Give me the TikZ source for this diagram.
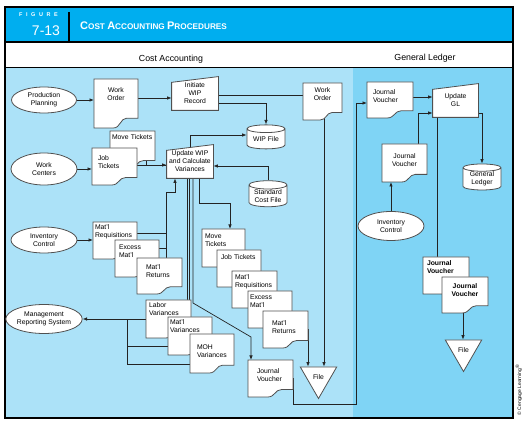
\documentclass[tikz,border=0pt]{standalone}
\usepackage{fontspec}
\setmainfont{Liberation Sans}
\usetikzlibrary{shapes.geometric,arrows.meta,calc}
\pgfdeclarelayer{bg}
\pgfdeclarelayer{lines}
\pgfsetlayers{bg,lines,main}
\definecolor{hdr}{RGB}{0,174,239}
\definecolor{cablue}{RGB}{172,226,248}
\definecolor{glblue}{RGB}{127,212,245}
\definecolor{dgray}{RGB}{80,80,80}
\definecolor{lcol}{RGB}{35,35,35}
\makeatletter
\pgfdeclareshape{docshape}{%
  \savedanchor\northeast{%
    \pgfmathsetlength\pgf@xa{\pgfkeysvalueof{/pgf/minimum width}}%
    \pgfmathsetlength\pgf@ya{\pgfkeysvalueof{/pgf/inner ysep}}%
    \pgf@x=.5\wd\pgfnodeparttextbox
    \advance\pgf@x by .5\pgf@xa
    \pgf@y=\ht\pgfnodeparttextbox
    \advance\pgf@y by \pgf@ya
  }%
  \savedanchor\southwest{%
    \pgfmathsetlength\pgf@xa{\pgfkeysvalueof{/pgf/minimum width}}%
    \pgfmathsetlength\pgf@ya{\pgfkeysvalueof{/pgf/inner ysep}}%
    \pgfmathsetlength\pgf@yb{\pgfkeysvalueof{/pgf/minimum height}}%
    \pgf@x=.5\wd\pgfnodeparttextbox
    \advance\pgf@x by -.5\pgf@xa
    \pgf@y=\ht\pgfnodeparttextbox
    \advance\pgf@y by \pgf@ya
    \advance\pgf@y by -\pgf@yb
  }%
  \inheritanchorborder[from=rectangle]%
  \inheritanchor[from=rectangle]{center}%
  \inheritanchor[from=rectangle]{north}%
  \inheritanchor[from=rectangle]{south}%
  \inheritanchor[from=rectangle]{east}%
  \inheritanchor[from=rectangle]{west}%
  \inheritanchor[from=rectangle]{north east}%
  \inheritanchor[from=rectangle]{north west}%
  \inheritanchor[from=rectangle]{south east}%
  \inheritanchor[from=rectangle]{south west}%
  \anchor{text}{\pgfpointorigin}%
  \backgroundpath{%
    \southwest \edef\doc@xa{\strip@pt\pgf@x}\edef\doc@ya{\strip@pt\pgf@y}%
    \northeast \edef\doc@xb{\strip@pt\pgf@x}\edef\doc@yb{\strip@pt\pgf@y}%
    \pgfmathsetmacro\doc@w{(\doc@xb)-(\doc@xa)}%
    \pgfmathsetmacro\doc@h{(\doc@yb)-(\doc@ya)}%
    \pgfpathmoveto{\pgfpoint{(\doc@xa)*1pt}{(\doc@yb)*1pt}}%
    \pgfpathlineto{\pgfpoint{(\doc@xb)*1pt}{(\doc@yb)*1pt}}%
    \pgfpathlineto{\pgfpoint{(\doc@xb)*1pt}{((\doc@ya)+0.2*\doc@h)*1pt}}%
    \pgfpathlineto{\pgfpoint{((\doc@xa)+0.74*\doc@w)*1pt}{((\doc@ya)+0.2*\doc@h)*1pt}}%
    \pgfpathcurveto{\pgfpoint{((\doc@xa)+0.6*\doc@w)*1pt}{((\doc@ya)+0.2*\doc@h)*1pt}}%
      {\pgfpoint{((\doc@xa)+0.6*\doc@w)*1pt}{(\doc@ya)*1pt}}%
      {\pgfpoint{((\doc@xa)+0.44*\doc@w)*1pt}{(\doc@ya)*1pt}}%
    \pgfpathlineto{\pgfpoint{(\doc@xa)*1pt}{(\doc@ya)*1pt}}%
    \pgfpathclose
  }%
}
\pgfdeclareshape{maninput}{%
  \inheritsavedanchors[from=rectangle]%
  \inheritanchorborder[from=rectangle]%
  \inheritanchor[from=rectangle]{center}%
  \inheritanchor[from=rectangle]{north}%
  \inheritanchor[from=rectangle]{south}%
  \inheritanchor[from=rectangle]{east}%
  \inheritanchor[from=rectangle]{west}%
  \inheritanchor[from=rectangle]{north east}%
  \inheritanchor[from=rectangle]{north west}%
  \inheritanchor[from=rectangle]{south east}%
  \inheritanchor[from=rectangle]{south west}%
  \backgroundpath{%
    \southwest \edef\mi@xa{\strip@pt\pgf@x}\edef\mi@ya{\strip@pt\pgf@y}%
    \northeast \edef\mi@xb{\strip@pt\pgf@x}\edef\mi@yb{\strip@pt\pgf@y}%
    \pgfmathsetmacro\mi@h{(\mi@yb)-(\mi@ya)}%
    \pgfpathmoveto{\pgfpoint{(\mi@xa)*1pt}{((\mi@yb)-0.17*\mi@h)*1pt}}%
    \pgfpathlineto{\pgfpoint{(\mi@xb)*1pt}{(\mi@yb)*1pt}}%
    \pgfpathlineto{\pgfpoint{(\mi@xb)*1pt}{(\mi@ya)*1pt}}%
    \pgfpathlineto{\pgfpoint{(\mi@xa)*1pt}{(\mi@ya)*1pt}}%
    \pgfpathclose
  }%
}
\makeatother
\begin{document}
\begin{tikzpicture}[x=1pt,y=-1pt,
  txt/.style={font=\fontsize{6.8}{8}\selectfont, text=black},
  shp/.style={draw=dgray, fill=white, line width=0.8pt, txt},
  docb/.style={docshape, shp, inner xsep=0pt, anchor=north west, align=left,
    execute at begin node={\hyphenpenalty=10000\exhyphenpenalty=10000}},
  doc/.style n args={4}{docb, minimum width=#1pt, minimum height=#2pt, text width=#3pt, inner ysep=#4pt},
  ell/.style={ellipse, shp, inner sep=0pt, align=center},
  mi/.style={maninput, shp, inner sep=1pt, align=center, minimum width=46pt, minimum height=33pt},
  cyl/.style={cylinder, shape border rotate=90, aspect=0.3, shp, inner sep=0pt, align=center, minimum width=38pt},
  tri/.style={regular polygon, regular polygon sides=3, shape border rotate=180, shp, inner sep=0pt, minimum size=42pt},
  con/.style={draw=lcol, line width=0.7pt},
  arr/.style={-{Latex[length=4.5pt,width=3.5pt]}},
  hdrtext/.style={text=white, inner sep=0pt}
]
\useasboundingbox (0,0) rectangle (528,430);
\begin{pgfonlayer}{bg}
  \fill[white] (0,0) rectangle (528,430);
  \fill[hdr] (5,7) rectangle (513,42);
  \fill[white] (5,42) rectangle (513,67);
  \fill[cablue] (5,67) rectangle (353,418);
  \fill[glblue] (353,67) rectangle (513,418);
  \draw[line width=1.2pt] (5,42) -- (513,42);
  \draw[line width=0.8pt] (5,67) -- (513,67);
  \draw[line width=1.5pt] (69,12) -- (69,42);
  \draw[line width=1.5pt] (5,7) rectangle (513,418);
\end{pgfonlayer}
% header
\node[hdrtext, font=\bfseries\fontsize{5.5}{6}\selectfont] (figlbl) at (38.5,15) {F\kern3.6pt I\kern3.6pt G\kern3.6pt U\kern3.6pt R\kern3.6pt E};
\node[hdrtext, font=\fontsize{14}{15}\selectfont] (fignum) at (46,30.5) {7-13};
\node[hdrtext, anchor=base west, font=\bfseries] (figtitle) at (80,30) {\fontsize{11}{12}\selectfont C\fontsize{8.2}{9}\selectfont OST \fontsize{11}{12}\selectfont A\fontsize{8.2}{9}\selectfont CCOUNTING \fontsize{11}{12}\selectfont P\fontsize{8.2}{9}\selectfont ROCEDURES};
\node[font=\fontsize{8.8}{10}\selectfont] (hca) at (171,59) {Cost Accounting};
\node[font=\fontsize{8.8}{10}\selectfont] (hgl) at (425,58) {General Ledger};
\node[rotate=90, font=\fontsize{5}{6}\selectfont, inner sep=0pt] (copy) at (519,390) {\textcopyright{} Cengage Learning\textsuperscript{\textregistered}};
% ellipses
\node[ell, minimum width=65pt, minimum height=26pt] (pp) at (44,100) {Production\\Planning};
\node[ell, minimum width=66pt, minimum height=32pt] (wc) at (44,169) {Work\\Centers};
\node[ell, minimum width=66pt, minimum height=26pt] (ic1) at (44,240) {Inventory\\Control};
\node[ell, minimum width=66pt, minimum height=29pt] (mrs) at (44,319) {Management\\Reporting System};
\node[ell, minimum width=66pt, minimum height=29pt] (ic2) at (391,226) {Inventory\\Control};
% manual inputs
\node[mi] (iwr) at (195,93.5) {Initiate\\WIP\\Record};
\node[mi] (uwip) at (190,161.5) {Update WIP\\and Calculate\\Variances};
\node[mi, minimum width=45pt] (ugl) at (455.5,100.5) {Update\\GL};
% files
\node[cyl, minimum height=24pt] (wipf) at (266,139) {WIP File};
\node[cyl, minimum height=26pt] (scf) at (268,196) {Standard\\Cost File};
\node[cyl, minimum height=26pt] (gl) at (482,179) {General\\Ledger};
\node[tri, txt] (file1) at (318.5,377.5) {File};
\node[tri, txt] (file2) at (463.5,350.5) {File};
% documents
\node[doc={44}{49}{40}{8.5}, align=center] (wo1) at (94,79) {Work\\Order};
\node[doc={45}{37}{41}{3.5}] (mt1) at (110,131) {Move Tickets};
\node[doc={45}{37}{33}{7.5}] (jt1) at (92,148) {Job\\Tickets};
\node[doc={44}{37}{40}{2.5}] (mr1) at (93,222) {Mat'l\\Requisitions};
\node[doc={44}{37}{36}{4.5}] (em1) at (115,240) {Excess\\Mat'l};
\node[doc={45}{36}{27}{6.5}] (rt1) at (137,258) {Mat'l\\Returns};
\node[doc={45}{38}{39}{2.5}] (lv) at (146,300) {Labor\\Variances};
\node[doc={44}{38}{40}{2.5}] (mv) at (168,317) {Mat'l\\Variances};
\node[doc={44}{39}{30}{10.5}] (mohv) at (190,334) {MOH\\Variances};
\node[doc={43}{38}{37}{4.5}] (mt2) at (202,229) {Move\\Tickets};
\node[doc={44}{37}{36}{4.5}] (jt2) at (217,250) {Job Tickets};
\node[doc={45}{37}{39}{3.5}] (mr2) at (232,271) {Mat'l\\Requisitions};
\node[doc={44}{37}{40}{3.5}] (em2) at (248,291) {Excess\\Mat'l};
\node[doc={45}{37}{27}{9.5}] (rt2) at (263,311) {Mat'l\\Returns};
\node[doc={45}{37}{27}{8.5}] (jv1) at (248,360) {Journal\\Voucher};
\node[doc={39}{37}{35}{4.5}, align=center] (wo2) at (303,83) {Work\\Order};
\node[doc={46}{36}{34}{7.5}] (jvg1) at (367,82) {Journal\\Voucher};
\node[doc={45}{38}{41}{9.5}, align=center] (jvg2) at (382,144) {Journal\\Voucher};
\node[doc={46}{37}{38}{3.5}, font=\bfseries\fontsize{6.8}{8}\selectfont] (jvg3) at (423,257) {Journal\\Voucher};
\node[doc={46}{36}{42}{6.5}, align=center, font=\bfseries\fontsize{6.8}{8}\selectfont] (jvg4) at (442,277) {Journal\\Voucher};
% connectors
\begin{pgfonlayer}{lines}
  \draw[con,arr] (pp.east) -- (pp.east -| wo1.west);
  \draw[con,arr] ([yshift=-4.5pt]iwr.west -| wo1.east) -- ([yshift=-4.5pt]iwr.west);
  \draw[con] ([yshift=-1.5pt]iwr.east) -- ([yshift=-1.5pt]iwr.east -| wo2.west);
  \draw[con,arr] ([yshift=-9.5pt]iwr.east) -| (wipf.north);
  \draw[con,arr] (uwip.center) |- ([yshift=4pt]wipf.west);
  \draw[con,arr] (scf.north) |- ([yshift=-4.5pt]uwip.east);
  \draw[con,arr] (wc.east) -- (wc.east -| jt1.west);
  \draw[con,arr] ([yshift=-3.5pt]uwip.west -| jt1.east) -- ([yshift=-3.5pt]uwip.west);
  \draw[con] ([xshift=13.5pt]mt1.center) |- ([yshift=-3.5pt]uwip.west);
  \draw[con,arr] (ic1.east) -- (ic1.east -| mr1.west);
  \coordinate (jm) at (166,192);
  \draw[con] ([yshift=7.5pt]mr1.east) -| (jm);
  \draw[con] ([yshift=10.5pt]em1.east) -| (jm);
  \draw[con] ([xshift=6.5pt]rt1.north) -- (jm);
  \draw[con,arr] (jm) -| ([xshift=-15pt]uwip.south);
  \draw[con,arr] ([xshift=9pt]uwip.south) -- ++(0,25) -| ([xshift=6.5pt]mt2.north);
  \draw[con] ([xshift=-3pt]uwip.center) -- ([xshift=-3pt]uwip.center |- lv.center);
  \draw[con] ([xshift=-1pt]uwip.center) -- ([xshift=-1pt]uwip.center |- lv.center);
  \draw[con,arr] ([xshift=3pt]uwip.center) -- ++(0,141.5) -- ++(58,34) -- ([xshift=-19.5pt]jv1.north);
  \draw[con,arr] (lv.west) -- (mrs.east);
  \draw[con] ([yshift=-10pt]mv.west) -| ([xshift=45pt]mrs.east);
  \draw[con] ([yshift=-10.5pt]mohv.west) -| ([xshift=45pt]mrs.east);
  \draw[con,arr] ([xshift=1.5pt]wo2.center) -- ([xshift=1.5pt]wo2.center |- file1.north);
  \draw[con,arr] (rt2.east) -- (rt2.east |- file1.north);
  \draw[con,arr] (jv1.east) -- ++(0,25.5) -| ([xshift=-11pt,yshift=-3pt]jvg1.west) -- ([yshift=-3pt]jvg1.west);
  \draw[con,arr] ([yshift=3.5pt]ugl.west -| jvg1.east) -- ([yshift=3.5pt]ugl.west);
  \draw[con,arr] ([xshift=13.5pt]jvg2.north) |- ([yshift=-12.5pt]ugl.west);
  \draw[con,arr] (ic2.north) -- (ic2.north |- jvg2.south);
  \draw[con,arr] ([yshift=-12.5pt]ugl.east) -| (gl.north);
  \draw[con] ([xshift=-18.5pt]ugl.south) -- ([xshift=-18.5pt]ugl.south |- jvg3.north);
  \draw[con,arr] ([xshift=-2pt]jvg4.center) -- ([xshift=-2pt]jvg4.center |- file2.north);
\end{pgfonlayer}
\end{tikzpicture}
\end{document}
